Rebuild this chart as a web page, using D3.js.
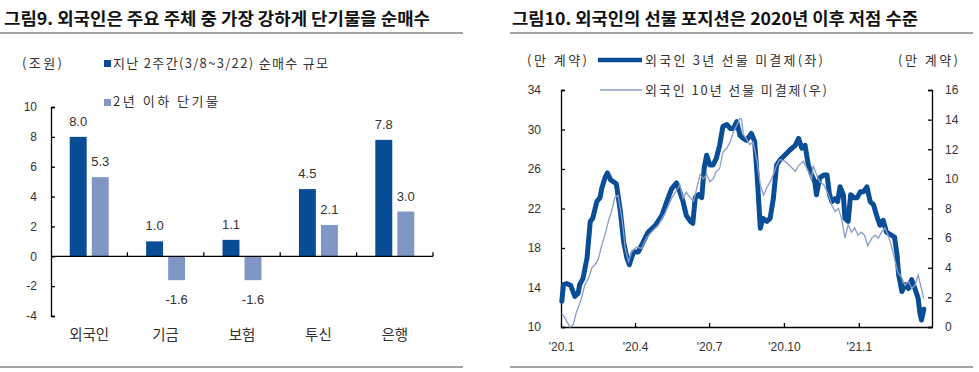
<!DOCTYPE html>
<html>
<head>
<meta charset="utf-8">
<script src="https://cdn.jsdelivr.net/npm/d3@7"></script>
<style>
  body { margin: 0; background: #fff; }
  text { font-family: "Liberation Sans", "Noto Sans CJK KR", sans-serif; fill: #333; }
  .kr { font-family: "Noto Sans CJK KR", sans-serif; }
  .axis path, .axis line { stroke: #000; stroke-width: 1.3; }
  .axis text { font-size: 12px; fill: #333; font-family: "Liberation Sans", sans-serif; }
</style>
</head>
<body>
<svg id="chart" width="979" height="372"></svg>
<script>
// ---- left chart data (그림9) ----
const categories = ['외국인', '기금', '보험', '투신', '은행'];
const netBuy2w = [8.0, 1.0, 1.1, 4.5, 7.8];     // 지난 2주간(3/8~3/22) 순매수 규모
const shortTerm = [5.3, -1.6, -1.6, 2.1, 3.0];  // 2년 이하 단기물
const leftTicks = [-4, -2, 0, 2, 4, 6, 8, 10];

// ---- right chart data (그림10) ----
const dates3y = ['2020-01-02','2020-01-04','2020-01-08','2020-01-13','2020-01-18','2020-01-22','2020-01-24','2020-01-28','2020-02-02','2020-02-06',
  '2020-02-09','2020-02-14','2020-02-18','2020-02-20','2020-02-24','2020-02-27','2020-03-02','2020-03-09','2020-03-14','2020-03-18',
  '2020-03-22','2020-03-25','2020-03-30','2020-04-05','2020-04-11','2020-04-17','2020-04-26','2020-05-04','2020-05-10','2020-05-16',
  '2020-05-22','2020-05-26','2020-05-30','2020-06-03','2020-06-08','2020-06-11','2020-06-14','2020-06-18','2020-06-22','2020-06-25',
  '2020-06-28','2020-07-02','2020-07-06','2020-07-10','2020-07-14','2020-07-18','2020-07-23','2020-07-27','2020-07-31','2020-08-04',
  '2020-08-08','2020-08-12','2020-08-16','2020-08-22','2020-08-26','2020-08-29','2020-08-31','2020-09-02','2020-09-05','2020-09-10',
  '2020-09-14','2020-09-18','2020-09-22','2020-09-26','2020-10-02','2020-10-08','2020-10-15','2020-10-19','2020-10-23','2020-10-27',
  '2020-10-31','2020-11-04','2020-11-08','2020-11-10','2020-11-14','2020-11-19','2020-11-23','2020-11-26','2020-11-29','2020-12-03',
  '2020-12-06','2020-12-09','2020-12-13','2020-12-15','2020-12-19','2020-12-22','2020-12-26','2020-12-30','2021-01-03','2021-01-07',
  '2021-01-11','2021-01-15','2021-01-19','2021-01-23','2021-01-27','2021-01-31','2021-02-04','2021-02-10','2021-02-14','2021-02-17',
  '2021-02-19','2021-02-23','2021-02-27','2021-03-03','2021-03-07','2021-03-11','2021-03-15','2021-03-17','2021-03-19','2021-03-22'];
const fut3y = [12.6,14.3,14.4,14.2,13.1,13.4,14.3,14.9,17.0,20.7,
  21.0,22.7,23.1,24.0,25.1,25.6,24.9,24.5,21.7,18.6,
  17.0,16.3,17.6,17.6,18.6,19.6,20.3,21.3,22.7,24.0,
  24.6,23.7,22.7,21.3,20.7,20.5,23.1,23.4,23.1,26.1,
  27.4,26.4,26.4,27.1,28.4,30.3,30.5,30.1,30.1,30.8,
  29.4,29.1,28.9,29.6,28.8,25.4,22.7,20.0,21.0,20.7,
  21.0,23.0,26.4,26.9,27.4,27.9,28.4,29.1,28.1,28.4,
  26.4,25.4,24.7,23.4,25.1,25.4,25.4,23.4,22.7,23.0,
  22.7,24.2,23.4,21.0,20.7,23.4,23.1,23.1,23.7,23.7,
  24.2,22.7,22.4,21.3,20.3,20.8,19.6,19.3,19.1,17.3,
  15.3,13.6,14.3,13.9,14.8,13.9,12.9,11.5,10.7,11.8];

const dates10y = ['2020-01-02','2020-01-06','2020-01-12','2020-01-16','2020-01-20','2020-01-26','2020-01-30','2020-02-04','2020-02-08','2020-02-12',
  '2020-02-16','2020-02-20','2020-02-24','2020-02-28','2020-03-03','2020-03-07','2020-03-11','2020-03-16','2020-03-20','2020-03-24',
  '2020-03-28','2020-04-03','2020-04-09','2020-04-15','2020-04-21','2020-04-30','2020-05-08','2020-05-16','2020-05-24','2020-05-26',
  '2020-05-30','2020-06-03','2020-06-08','2020-06-12','2020-06-16','2020-06-20','2020-06-24','2020-06-28','2020-07-02','2020-07-06',
  '2020-07-10','2020-07-14','2020-07-18','2020-07-23','2020-07-27','2020-07-31','2020-08-04','2020-08-08','2020-08-10','2020-08-12',
  '2020-08-16','2020-08-20','2020-08-24','2020-08-29','2020-09-02','2020-09-06','2020-09-10','2020-09-14','2020-09-18','2020-09-22',
  '2020-09-26','2020-10-02','2020-10-08','2020-10-15','2020-10-19','2020-10-25','2020-10-31','2020-11-04','2020-11-06','2020-11-10',
  '2020-11-14','2020-11-19','2020-11-25','2020-11-29','2020-12-03','2020-12-07','2020-12-11','2020-12-15','2020-12-19','2020-12-23',
  '2020-12-27','2020-12-31','2021-01-04','2021-01-08','2021-01-12','2021-01-17','2021-01-21','2021-01-25','2021-01-29','2021-02-02',
  '2021-02-06','2021-02-10','2021-02-14','2021-02-18','2021-02-23','2021-02-27','2021-03-03','2021-03-07','2021-03-11','2021-03-15',
  '2021-03-19','2021-03-22'];
const fut10y = [0.9,0.6,0.0,0.15,1.0,1.9,2.8,3.3,4.0,4.2,
  4.6,5.5,6.2,7.1,7.8,8.7,8.9,7.3,5.3,4.4,
  5.1,5.4,5.3,6.0,6.4,6.9,7.7,8.7,9.4,9.6,
  8.7,9.1,8.7,8.5,9.4,10.3,10.0,10.3,9.8,10.0,
  10.5,10.7,11.8,12.1,12.5,13.2,13.6,14.1,14.0,13.0,
  12.7,12.3,12.5,11.2,9.6,8.9,9.4,9.8,10.3,10.9,
  11.3,11.2,10.9,10.5,10.9,11.2,10.5,10.0,10.9,10.3,
  9.8,9.6,8.9,8.2,7.8,8.0,7.3,6.0,6.9,6.4,
  6.7,6.2,6.4,6.2,5.5,6.0,6.2,6.0,6.4,6.7,
  6.2,5.5,4.6,3.7,3.3,2.8,3.1,2.6,2.8,3.5,
  2.6,1.9];

const rightTicksL = [10, 14, 18, 22, 26, 30, 34];
const rightTicksR = [0, 2, 4, 6, 8, 10, 12, 14, 16];
const xTickDates = ['2020-01-01', '2020-04-01', '2020-07-01', '2020-10-01', '2021-01-01'];
const xTickLabels = ["'20.1", "'20.4", "'20.7", "'20.10", "'21.1"];

const dark = '#0a4d97';
const light = '#8097c6';
const thin = '#8a9cc8';

const svg = d3.select('#chart');
const parse = d3.timeParse('%Y-%m-%d');

// ---- titles and rules ----
svg.append('text').attr('class', 'kr').attr('x', 4).attr('y', 25)
  .attr('font-size', 17).attr('font-weight', 'bold').style('fill', '#111')
  .attr('textLength', 426).attr('lengthAdjust', 'spacingAndGlyphs')
  .text('그림9. 외국인은 주요 주체 중 가장 강하게 단기물을 순매수');
svg.append('text').attr('class', 'kr').attr('x', 512).attr('y', 25)
  .attr('font-size', 17).attr('font-weight', 'bold').style('fill', '#111')
  .attr('textLength', 406).attr('lengthAdjust', 'spacingAndGlyphs')
  .text('그림10. 외국인의 선물 포지션은 2020년 이후 저점 수준');

[[0, 463], [510, 973]].forEach(([a, b]) => {
  [33, 367].forEach(y => {
    svg.append('line').attr('x1', a).attr('x2', b).attr('y1', y).attr('y2', y)
      .attr('stroke', '#a3a3a3').attr('stroke-width', 2);
  });
});

// ---- left chart ----
const xL = d3.scaleBand().domain(categories).range([51, 433]);
const xSub = d3.scaleBand().domain([0, 1]).range([0, xL.bandwidth()]).paddingInner(0.23).paddingOuter(0.85);
const yL = d3.scaleLinear().domain([-4, 10]).range([316, 107]);

svg.append('text').attr('class', 'kr').attr('x', 22).attr('y', 68).attr('font-size', 13)
  .attr('textLength', 40).text('(조원)');
svg.append('rect').attr('x', 104).attr('y', 60).attr('width', 7).attr('height', 7).attr('fill', dark);
svg.append('text').attr('class', 'kr').attr('x', 113).attr('y', 68).attr('font-size', 13)
  .attr('textLength', 215).text('지난 2주간(3/8~3/22) 순매수 규모');
svg.append('rect').attr('x', 104).attr('y', 99).attr('width', 7).attr('height', 7).attr('fill', light);
svg.append('text').attr('class', 'kr').attr('x', 113).attr('y', 106).attr('font-size', 13)
  .attr('textLength', 105).text('2년 이하 단기물');

const barData = categories.flatMap((c, i) => [
  { cat: c, k: 0, v: netBuy2w[i] },
  { cat: c, k: 1, v: shortTerm[i] }
]);

svg.append('g').selectAll('rect').data(barData).join('rect')
  .attr('x', d => xL(d.cat) + xSub(d.k))
  .attr('width', xSub.bandwidth())
  .attr('y', d => yL(Math.max(0, d.v)))
  .attr('height', d => Math.abs(yL(d.v) - yL(0)))
  .attr('fill', d => d.k === 0 ? dark : light);

svg.append('g').selectAll('text').data(barData).join('text')
  .attr('x', d => xL(d.cat) + xSub(d.k) + xSub.bandwidth() / 2)
  .attr('y', d => d.v >= 0 ? yL(d.v) - 11 : yL(d.v) + 24)
  .attr('text-anchor', 'middle').attr('font-size', 13)
  .text(d => d.v.toFixed(1));

svg.append('g').attr('class', 'axis').attr('transform', 'translate(51,0)')
  .call(d3.axisLeft(yL).tickValues(leftTicks).tickSize(-4).tickSizeOuter(-4)
    .tickPadding(14).tickFormat(d => d));

// category axis at zero
const xAxisL = svg.append('g').attr('class', 'axis');
xAxisL.append('line').attr('x1', 51).attr('x2', 433).attr('y1', yL(0)).attr('y2', yL(0));
xAxisL.selectAll('.tk').data(categories).join('line').attr('class', 'tk')
  .attr('x1', d => xL(d) + xL.bandwidth()).attr('x2', d => xL(d) + xL.bandwidth())
  .attr('y1', yL(0)).attr('y2', yL(0) - 4);

svg.append('g').selectAll('text').data(categories).join('text')
  .attr('class', 'kr').attr('x', d => xL(d) + xL.bandwidth() / 2).attr('y', 340)
  .attr('text-anchor', 'middle').attr('font-size', 14.5).text(d => d);

// ---- right chart ----
const xR = d3.scaleTime().domain([parse('2020-01-01'), parse('2021-04-01')]).range([561, 932]);
const yR1 = d3.scaleLinear().domain([10, 34]).range([327, 90]);
const yR2 = d3.scaleLinear().domain([0, 16]).range([327, 90]);

svg.append('g').attr('class', 'axis').attr('transform', 'translate(561,0)')
  .call(d3.axisLeft(yR1).tickValues(rightTicksL).tickSize(-4).tickSizeOuter(-4).tickPadding(20));
svg.append('g').attr('class', 'axis').attr('transform', 'translate(932,0)')
  .call(d3.axisRight(yR2).tickValues(rightTicksR).tickSize(-4).tickSizeOuter(-4).tickPadding(13));
svg.append('g').attr('class', 'axis').attr('transform', 'translate(0,327)')
  .call(d3.axisBottom(xR).tickValues(xTickDates.map(parse)).tickSize(-4).tickSizeOuter(0)
    .tickPadding(15).tickFormat((d, i) => xTickLabels[i]));

const s3 = dates3y.map((d, i) => ({ date: parse(d), v: fut3y[i] }));
const s10 = dates10y.map((d, i) => ({ date: parse(d), v: fut10y[i] }));

svg.append('path').datum(s3)
  .attr('fill', 'none').attr('stroke', dark).attr('stroke-width', 5)
  .attr('stroke-linejoin', 'round').attr('stroke-linecap', 'round')
  .attr('d', d3.line().x(d => xR(d.date)).y(d => yR1(d.v)));
svg.append('path').datum(s10)
  .attr('fill', 'none').attr('stroke', thin).attr('stroke-width', 1.3)
  .attr('d', d3.line().x(d => xR(d.date)).y(d => yR2(d.v)));

// legend
svg.append('text').attr('class', 'kr').attr('x', 527).attr('y', 65).attr('font-size', 13)
  .attr('textLength', 60).text('(만 계약)');
svg.append('text').attr('class', 'kr').attr('x', 898).attr('y', 65).attr('font-size', 13)
  .attr('textLength', 60).text('(만 계약)');
svg.append('line').attr('x1', 598).attr('x2', 642).attr('y1', 60).attr('y2', 60)
  .attr('stroke', dark).attr('stroke-width', 4.5);
svg.append('text').attr('class', 'kr').attr('x', 645).attr('y', 65).attr('font-size', 13)
  .attr('textLength', 178).text('외국인 3년 선물 미결제(좌)');
svg.append('line').attr('x1', 600).attr('x2', 642).attr('y1', 90).attr('y2', 90)
  .attr('stroke', thin).attr('stroke-width', 1.3);
svg.append('text').attr('class', 'kr').attr('x', 645).attr('y', 95).attr('font-size', 13)
  .attr('textLength', 182).text('외국인 10년 선물 미결제(우)');
</script>
</body>
</html>
